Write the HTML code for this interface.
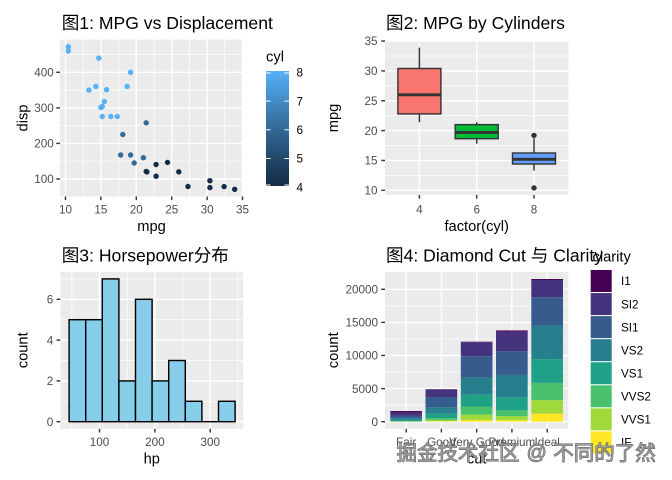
<!DOCTYPE html>
<html><head><meta charset="utf-8"><style>
html,body{margin:0;padding:0;background:#fff;}
svg{display:block;}
text{font-family:"Liberation Sans","Noto Sans CJK SC",sans-serif;}
.t{font-size:17.6px;fill:#000;}
.ax{font-size:11.7px;fill:#4D4D4D;}
.at{font-size:14.7px;fill:#000;}
.lg{font-size:11.7px;fill:#000;}
.gM{stroke:#fff;stroke-width:1.42;}
.gm{stroke:#fff;stroke-width:0.71;}
.tk{stroke:#333;stroke-width:1.42;}
</style></head><body>
<svg width="672" height="480" viewBox="0 0 672 480" xmlns="http://www.w3.org/2000/svg">
<defs>
<linearGradient id="cb" x1="0" y1="0" x2="0" y2="1">
<stop offset="0" stop-color="#56B1F7"/><stop offset="0.25" stop-color="#448DC7"/><stop offset="0.5" stop-color="#336A98"/><stop offset="0.75" stop-color="#23496C"/><stop offset="1" stop-color="#132B43"/>
</linearGradient>
</defs>
<rect width="672" height="480" fill="#fff"/>

<!-- ===== Panel 1 ===== -->
<text class="t" x="61.7" y="29">图1: MPG vs Displacement</text>
<rect x="60" y="39.6" width="183" height="156.8" fill="#EBEBEB"/>
<g class="gm">
<line x1="83.2" y1="39.6" x2="83.2" y2="196.4"/><line x1="118.6" y1="39.6" x2="118.6" y2="196.4"/><line x1="154" y1="39.6" x2="154" y2="196.4"/><line x1="189.4" y1="39.6" x2="189.4" y2="196.4"/><line x1="224.8" y1="39.6" x2="224.8" y2="196.4"/>
<line x1="60" y1="161.2" x2="243" y2="161.2"/><line x1="60" y1="125.7" x2="243" y2="125.7"/><line x1="60" y1="90.1" x2="243" y2="90.1"/><line x1="60" y1="54.5" x2="243" y2="54.5"/>
</g>
<g class="gM">
<line x1="65.5" y1="39.6" x2="65.5" y2="196.4"/><line x1="100.9" y1="39.6" x2="100.9" y2="196.4"/><line x1="136.3" y1="39.6" x2="136.3" y2="196.4"/><line x1="171.7" y1="39.6" x2="171.7" y2="196.4"/><line x1="207.1" y1="39.6" x2="207.1" y2="196.4"/><line x1="242.5" y1="39.6" x2="242.5" y2="196.4"/>
<line x1="60" y1="179" x2="243" y2="179"/><line x1="60" y1="143.4" x2="243" y2="143.4"/><line x1="60" y1="107.9" x2="243" y2="107.9"/><line x1="60" y1="72.3" x2="243" y2="72.3"/>
</g>
<g>
<circle cx="143.4" cy="157.7" r="2.7" fill="#336A98"/>
<circle cx="146.2" cy="122.8" r="2.7" fill="#336A98"/>
<circle cx="122.8" cy="134.5" r="2.7" fill="#336A98"/>
<circle cx="130.6" cy="155" r="2.7" fill="#336A98"/>
<circle cx="120.7" cy="155" r="2.7" fill="#336A98"/>
<circle cx="134.2" cy="163" r="2.7" fill="#336A98"/>
<circle cx="156.1" cy="176.2" r="2.7" fill="#132B43"/>
<circle cx="167.5" cy="162.4" r="2.7" fill="#132B43"/>
<circle cx="156.1" cy="164.5" r="2.7" fill="#132B43"/>
<circle cx="224.1" cy="186.6" r="2.7" fill="#132B43"/>
<circle cx="209.9" cy="187.6" r="2.7" fill="#132B43"/>
<circle cx="234.7" cy="189.3" r="2.7" fill="#132B43"/>
<circle cx="146.9" cy="171.9" r="2.7" fill="#132B43"/>
<circle cx="188" cy="186.5" r="2.7" fill="#132B43"/>
<circle cx="178.8" cy="171.8" r="2.7" fill="#132B43"/>
<circle cx="209.9" cy="180.7" r="2.7" fill="#132B43"/>
<circle cx="146.2" cy="171.5" r="2.7" fill="#132B43"/>
<circle cx="127.1" cy="86.5" r="2.7" fill="#56B1F7"/>
<circle cx="95.9" cy="86.5" r="2.7" fill="#56B1F7"/>
<circle cx="110.8" cy="116.5" r="2.7" fill="#56B1F7"/>
<circle cx="117.2" cy="116.5" r="2.7" fill="#56B1F7"/>
<circle cx="102.3" cy="116.5" r="2.7" fill="#56B1F7"/>
<circle cx="68.3" cy="46.7" r="2.7" fill="#56B1F7"/>
<circle cx="68.3" cy="51" r="2.7" fill="#56B1F7"/>
<circle cx="98.8" cy="58.1" r="2.7" fill="#56B1F7"/>
<circle cx="104.4" cy="101.5" r="2.7" fill="#56B1F7"/>
<circle cx="102.3" cy="106.5" r="2.7" fill="#56B1F7"/>
<circle cx="88.9" cy="90.1" r="2.7" fill="#56B1F7"/>
<circle cx="130.6" cy="72.3" r="2.7" fill="#56B1F7"/>
<circle cx="106.6" cy="89.7" r="2.7" fill="#56B1F7"/>
<circle cx="100.9" cy="107.5" r="2.7" fill="#56B1F7"/>
</g>
<g class="tk">
<line x1="56.3" y1="179" x2="60" y2="179"/><line x1="56.3" y1="143.4" x2="60" y2="143.4"/><line x1="56.3" y1="107.9" x2="60" y2="107.9"/><line x1="56.3" y1="72.3" x2="60" y2="72.3"/>
<line x1="65.5" y1="196.4" x2="65.5" y2="200.1"/><line x1="100.9" y1="196.4" x2="100.9" y2="200.1"/><line x1="136.3" y1="196.4" x2="136.3" y2="200.1"/><line x1="171.7" y1="196.4" x2="171.7" y2="200.1"/><line x1="207.1" y1="196.4" x2="207.1" y2="200.1"/><line x1="242.5" y1="196.4" x2="242.5" y2="200.1"/>
</g>
<g class="ax" text-anchor="end">
<text x="53.8" y="183.2">100</text><text x="53.8" y="147.6">200</text><text x="53.8" y="112.1">300</text><text x="53.8" y="76.5">400</text>
</g>
<g class="ax" text-anchor="middle">
<text x="65.5" y="213.4">10</text><text x="100.9" y="213.4">15</text><text x="136.3" y="213.4">20</text><text x="171.7" y="213.4">25</text><text x="207.1" y="213.4">30</text><text x="242.5" y="213.4">35</text>
</g>
<text class="at" x="151.5" y="231" text-anchor="middle">mpg</text>
<text class="at" transform="translate(27.5,118) rotate(-90)" text-anchor="middle">disp</text>
<!-- colorbar -->
<text class="at" x="266" y="61.5">cyl</text>
<rect x="266" y="71" width="23" height="115" fill="url(#cb)"/>
<g stroke="#fff" stroke-width="1">
<line x1="266" y1="101.1" x2="270.6" y2="101.1"/><line x1="284.4" y1="101.1" x2="289" y2="101.1"/>
<line x1="266" y1="129.8" x2="270.6" y2="129.8"/><line x1="284.4" y1="129.8" x2="289" y2="129.8"/>
<line x1="266" y1="158.5" x2="270.6" y2="158.5"/><line x1="284.4" y1="158.5" x2="289" y2="158.5"/>
<line x1="266" y1="73" x2="270.6" y2="73"/><line x1="284.4" y1="73" x2="289" y2="73"/>
<line x1="266" y1="185" x2="270.6" y2="185"/><line x1="284.4" y1="185" x2="289" y2="185"/>
</g>
<g class="lg">
<text x="296.5" y="76.6">8</text><text x="296.5" y="105.3">7</text><text x="296.5" y="134">6</text><text x="296.5" y="162.7">5</text><text x="296.5" y="191.4">4</text>
</g>

<!-- ===== Panel 2 ===== -->
<text class="t" x="386" y="29">图2: MPG by Cylinders</text>
<rect x="385" y="40.6" width="183.4" height="154.3" fill="#EBEBEB"/>
<g class="gm">
<line x1="385" y1="175.4" x2="568.4" y2="175.4"/><line x1="385" y1="145.5" x2="568.4" y2="145.5"/><line x1="385" y1="115.7" x2="568.4" y2="115.7"/><line x1="385" y1="85.8" x2="568.4" y2="85.8"/><line x1="385" y1="56" x2="568.4" y2="56"/>
</g>
<g class="gM">
<line x1="385" y1="190.3" x2="568.4" y2="190.3"/><line x1="385" y1="160.45" x2="568.4" y2="160.45"/><line x1="385" y1="130.6" x2="568.4" y2="130.6"/><line x1="385" y1="100.75" x2="568.4" y2="100.75"/><line x1="385" y1="70.9" x2="568.4" y2="70.9"/><line x1="385" y1="41.05" x2="568.4" y2="41.05"/>
<line x1="419.4" y1="40.6" x2="419.4" y2="194.9"/><line x1="476.7" y1="40.6" x2="476.7" y2="194.9"/><line x1="534" y1="40.6" x2="534" y2="194.9"/>
</g>
<g stroke="#333" stroke-width="1.42">
<line x1="419.4" y1="47.6" x2="419.4" y2="68.5"/><line x1="419.4" y1="113.9" x2="419.4" y2="122.2"/>
<rect x="397.9" y="68.5" width="43" height="45.4" fill="#F8766D"/>
<line x1="397.9" y1="94.8" x2="440.9" y2="94.8" stroke-width="2.84"/>
<line x1="476.7" y1="122.2" x2="476.7" y2="124.6"/><line x1="476.7" y1="138.7" x2="476.7" y2="143.7"/>
<rect x="455.2" y="124.6" width="43" height="14.1" fill="#00BA38"/>
<line x1="455.2" y1="132.4" x2="498.2" y2="132.4" stroke-width="2.84"/>
<line x1="534" y1="138.4" x2="534" y2="153"/><line x1="534" y1="164" x2="534" y2="170.6"/>
<rect x="512.5" y="153" width="43" height="11" fill="#619CFF"/>
<line x1="512.5" y1="159.3" x2="555.5" y2="159.3" stroke-width="2.84"/>
</g>
<circle cx="534" cy="187.9" r="2.7" fill="#333"/>
<circle cx="534" cy="135.4" r="2.7" fill="#333"/>
<g class="tk">
<line x1="381.3" y1="190.3" x2="385" y2="190.3"/><line x1="381.3" y1="160.45" x2="385" y2="160.45"/><line x1="381.3" y1="130.6" x2="385" y2="130.6"/><line x1="381.3" y1="100.75" x2="385" y2="100.75"/><line x1="381.3" y1="70.9" x2="385" y2="70.9"/><line x1="381.3" y1="41.05" x2="385" y2="41.05"/>
<line x1="419.4" y1="194.9" x2="419.4" y2="198.6"/><line x1="476.7" y1="194.9" x2="476.7" y2="198.6"/><line x1="534" y1="194.9" x2="534" y2="198.6"/>
</g>
<g class="ax" text-anchor="end">
<text x="377.5" y="194.5">10</text><text x="377.5" y="164.6">15</text><text x="377.5" y="134.8">20</text><text x="377.5" y="104.9">25</text><text x="377.5" y="75.1">30</text><text x="377.5" y="45.2">35</text>
</g>
<g class="ax" text-anchor="middle">
<text x="419.4" y="213.4">4</text><text x="476.7" y="213.4">6</text><text x="534" y="213.4">8</text>
</g>
<text class="at" x="476.7" y="231" text-anchor="middle">factor(cyl)</text>
<text class="at" transform="translate(338,118) rotate(-90)" text-anchor="middle">mpg</text>

<!-- ===== Panel 3 ===== -->
<text class="t" x="61.7" y="261.3">图3: Horsepower分布</text>
<rect x="60.3" y="271.8" width="182.9" height="157" fill="#EBEBEB"/>
<g class="gm">
<line x1="71.9" y1="271.8" x2="71.9" y2="428.8"/><line x1="127.2" y1="271.8" x2="127.2" y2="428.8"/><line x1="182.5" y1="271.8" x2="182.5" y2="428.8"/><line x1="237.9" y1="271.8" x2="237.9" y2="428.8"/>
<line x1="60.3" y1="401.3" x2="243.2" y2="401.3"/><line x1="60.3" y1="360.5" x2="243.2" y2="360.5"/><line x1="60.3" y1="319.7" x2="243.2" y2="319.7"/><line x1="60.3" y1="278.9" x2="243.2" y2="278.9"/>
</g>
<g class="gM">
<line x1="99.5" y1="271.8" x2="99.5" y2="428.8"/><line x1="154.9" y1="271.8" x2="154.9" y2="428.8"/><line x1="210.2" y1="271.8" x2="210.2" y2="428.8"/>
<line x1="60.3" y1="421.7" x2="243.2" y2="421.7"/><line x1="60.3" y1="380.9" x2="243.2" y2="380.9"/><line x1="60.3" y1="340.1" x2="243.2" y2="340.1"/><line x1="60.3" y1="299.3" x2="243.2" y2="299.3"/>
</g>
<g fill="#87CEEB" stroke="#000" stroke-width="1.42">
<rect x="69.1" y="319.7" width="16.6" height="102"/>
<rect x="85.7" y="319.7" width="16.6" height="102"/>
<rect x="102.3" y="278.9" width="16.6" height="142.8"/>
<rect x="118.9" y="380.9" width="16.6" height="40.8"/>
<rect x="135.5" y="299.3" width="16.6" height="122.4"/>
<rect x="152.1" y="380.9" width="16.6" height="40.8"/>
<rect x="168.7" y="360.5" width="16.6" height="61.2"/>
<rect x="185.3" y="401.3" width="16.6" height="20.4"/>
<line x1="201.9" y1="421.7" x2="218.5" y2="421.7"/>
<rect x="218.5" y="401.3" width="16.6" height="20.4"/>
</g>
<g class="tk">
<line x1="56.6" y1="421.7" x2="60.3" y2="421.7"/><line x1="56.6" y1="380.9" x2="60.3" y2="380.9"/><line x1="56.6" y1="340.1" x2="60.3" y2="340.1"/><line x1="56.6" y1="299.3" x2="60.3" y2="299.3"/>
<line x1="99.5" y1="428.8" x2="99.5" y2="432.5"/><line x1="154.9" y1="428.8" x2="154.9" y2="432.5"/><line x1="210.2" y1="428.8" x2="210.2" y2="432.5"/>
</g>
<g class="ax" text-anchor="end">
<text x="53.3" y="425.9">0</text><text x="53.3" y="385.1">2</text><text x="53.3" y="344.3">4</text><text x="53.3" y="303.5">6</text>
</g>
<g class="ax" text-anchor="middle">
<text x="99.5" y="445.8">100</text><text x="154.9" y="445.8">200</text><text x="210.2" y="445.8">300</text>
</g>
<text class="at" x="151.8" y="463.5" text-anchor="middle">hp</text>
<text class="at" transform="translate(27.5,350.3) rotate(-90)" text-anchor="middle">count</text>

<!-- ===== Panel 4 ===== -->
<rect x="385" y="271.9" width="183.3" height="156.9" fill="#EBEBEB"/>
<g class="gm">
<line x1="385" y1="405.15" x2="568.3" y2="405.15"/><line x1="385" y1="372.05" x2="568.3" y2="372.05"/><line x1="385" y1="338.95" x2="568.3" y2="338.95"/><line x1="385" y1="305.85" x2="568.3" y2="305.85"/>
</g>
<g class="gM">
<line x1="385" y1="421.7" x2="568.3" y2="421.7"/><line x1="385" y1="388.6" x2="568.3" y2="388.6"/><line x1="385" y1="355.5" x2="568.3" y2="355.5"/><line x1="385" y1="322.4" x2="568.3" y2="322.4"/><line x1="385" y1="289.3" x2="568.3" y2="289.3"/>
<line x1="406.2" y1="271.9" x2="406.2" y2="428.8"/><line x1="441.4" y1="271.9" x2="441.4" y2="428.8"/><line x1="476.7" y1="271.9" x2="476.7" y2="428.8"/><line x1="511.9" y1="271.9" x2="511.9" y2="428.8"/><line x1="547.2" y1="271.9" x2="547.2" y2="428.8"/>
</g>
<g transform="translate(0 421.7) scale(1 -0.00662)">
<rect x="390.3" y="0" width="31.7" height="9" fill="#FDE725"/>
<rect x="390.3" y="9" width="31.7" height="17" fill="#9FDA3A"/>
<rect x="390.3" y="26" width="31.7" height="69" fill="#4AC16D"/>
<rect x="390.3" y="95" width="31.7" height="170" fill="#1FA187"/>
<rect x="390.3" y="265" width="31.7" height="261" fill="#277F8E"/>
<rect x="390.3" y="526" width="31.7" height="408" fill="#365C8D"/>
<rect x="390.3" y="934" width="31.7" height="466" fill="#46337E"/>
<rect x="390.3" y="1400" width="31.7" height="210" fill="#440154"/>

<rect x="425.5" y="0" width="31.7" height="71" fill="#FDE725"/>
<rect x="425.5" y="71" width="31.7" height="186" fill="#9FDA3A"/>
<rect x="425.5" y="257" width="31.7" height="286" fill="#4AC16D"/>
<rect x="425.5" y="543" width="31.7" height="648" fill="#1FA187"/>
<rect x="425.5" y="1191" width="31.7" height="978" fill="#277F8E"/>
<rect x="425.5" y="2169" width="31.7" height="1560" fill="#365C8D"/>
<rect x="425.5" y="3729" width="31.7" height="1081" fill="#46337E"/>
<rect x="425.5" y="4810" width="31.7" height="96" fill="#440154"/>

<rect x="460.8" y="0" width="31.7" height="268" fill="#FDE725"/>
<rect x="460.8" y="268" width="31.7" height="789" fill="#9FDA3A"/>
<rect x="460.8" y="1057" width="31.7" height="1235" fill="#4AC16D"/>
<rect x="460.8" y="2292" width="31.7" height="1775" fill="#1FA187"/>
<rect x="460.8" y="4067" width="31.7" height="2591" fill="#277F8E"/>
<rect x="460.8" y="6658" width="31.7" height="3240" fill="#365C8D"/>
<rect x="460.8" y="9898" width="31.7" height="2100" fill="#46337E"/>
<rect x="460.8" y="11998" width="31.7" height="84" fill="#440154"/>

<rect x="496" y="0" width="31.7" height="230" fill="#FDE725"/>
<rect x="496" y="230" width="31.7" height="616" fill="#9FDA3A"/>
<rect x="496" y="846" width="31.7" height="870" fill="#4AC16D"/>
<rect x="496" y="1716" width="31.7" height="1989" fill="#1FA187"/>
<rect x="496" y="3705" width="31.7" height="3357" fill="#277F8E"/>
<rect x="496" y="7062" width="31.7" height="3575" fill="#365C8D"/>
<rect x="496" y="10637" width="31.7" height="2949" fill="#46337E"/>
<rect x="496" y="13586" width="31.7" height="205" fill="#440154"/>

<rect x="531.3" y="0" width="31.7" height="1212" fill="#FDE725"/>
<rect x="531.3" y="1212" width="31.7" height="2047" fill="#9FDA3A"/>
<rect x="531.3" y="3259" width="31.7" height="2606" fill="#4AC16D"/>
<rect x="531.3" y="5865" width="31.7" height="3589" fill="#1FA187"/>
<rect x="531.3" y="9454" width="31.7" height="5071" fill="#277F8E"/>
<rect x="531.3" y="14525" width="31.7" height="4282" fill="#365C8D"/>
<rect x="531.3" y="18807" width="31.7" height="2598" fill="#46337E"/>
<rect x="531.3" y="21405" width="31.7" height="146" fill="#440154"/>
</g>
<g class="tk">
<line x1="381.3" y1="421.7" x2="385" y2="421.7"/><line x1="381.3" y1="388.6" x2="385" y2="388.6"/><line x1="381.3" y1="355.5" x2="385" y2="355.5"/><line x1="381.3" y1="322.4" x2="385" y2="322.4"/><line x1="381.3" y1="289.3" x2="385" y2="289.3"/>
<line x1="406.2" y1="428.8" x2="406.2" y2="432.5"/><line x1="441.4" y1="428.8" x2="441.4" y2="432.5"/><line x1="476.7" y1="428.8" x2="476.7" y2="432.5"/><line x1="511.9" y1="428.8" x2="511.9" y2="432.5"/><line x1="547.2" y1="428.8" x2="547.2" y2="432.5"/>
</g>
<g class="ax" text-anchor="end">
<text x="378" y="425.9">0</text><text x="378" y="392.8">5000</text><text x="378" y="359.7">10000</text><text x="378" y="326.6">15000</text><text x="378" y="293.5">20000</text>
</g>
<g class="ax" text-anchor="middle">
<text x="406.2" y="445.8">Fair</text><text x="441.4" y="445.8">Good</text><text x="476.7" y="445.8">Very Good</text><text x="511.9" y="445.8">Premium</text><text x="547.2" y="445.8">Ideal</text>
</g>
<text class="at" x="476.7" y="463.5" text-anchor="middle">cut</text>
<text class="at" transform="translate(338,350.3) rotate(-90)" text-anchor="middle">count</text>
<!-- legend -->
<text class="at" x="592.5" y="261.5">clarity</text>
<rect x="590.7" y="270" width="21" height="22" fill="#440154"/>
<rect x="590.7" y="293.06" width="21" height="22" fill="#46337E"/>
<rect x="590.7" y="316.12" width="21" height="22" fill="#365C8D"/>
<rect x="590.7" y="339.18" width="21" height="22" fill="#277F8E"/>
<rect x="590.7" y="362.24" width="21" height="22" fill="#1FA187"/>
<rect x="590.7" y="385.3" width="21" height="22" fill="#4AC16D"/>
<rect x="590.7" y="408.36" width="21" height="22" fill="#9FDA3A"/>
<rect x="590.7" y="431.42" width="21" height="22" fill="#FDE725"/>
<g class="lg">
<text x="621" y="285.2">I1</text><text x="621" y="308.3">SI2</text><text x="621" y="331.3">SI1</text><text x="621" y="354.4">VS2</text><text x="621" y="377.4">VS1</text><text x="621" y="400.5">VVS2</text><text x="621" y="423.6">VVS1</text><text x="621" y="446.6">IF</text>
</g>
<text class="t" x="386" y="261.5">图4: Diamond Cut 与 Clarity</text>

<!-- watermark -->
<g style="font-size:20.5px" fill="#9a9a9a" stroke="#5c5c5c" stroke-width="0.9" paint-order="stroke">
<text x="396.5" y="460" style="font-family:'Noto Sans CJK SC',sans-serif">掘金技术社区</text>
<text x="526.5" y="459" style="font-family:'Liberation Sans',sans-serif;font-size:20px">@</text>
<text x="553.3" y="460" style="font-family:'Noto Sans CJK SC',sans-serif">不同的了然</text>
</g>
</svg>
</body></html>
